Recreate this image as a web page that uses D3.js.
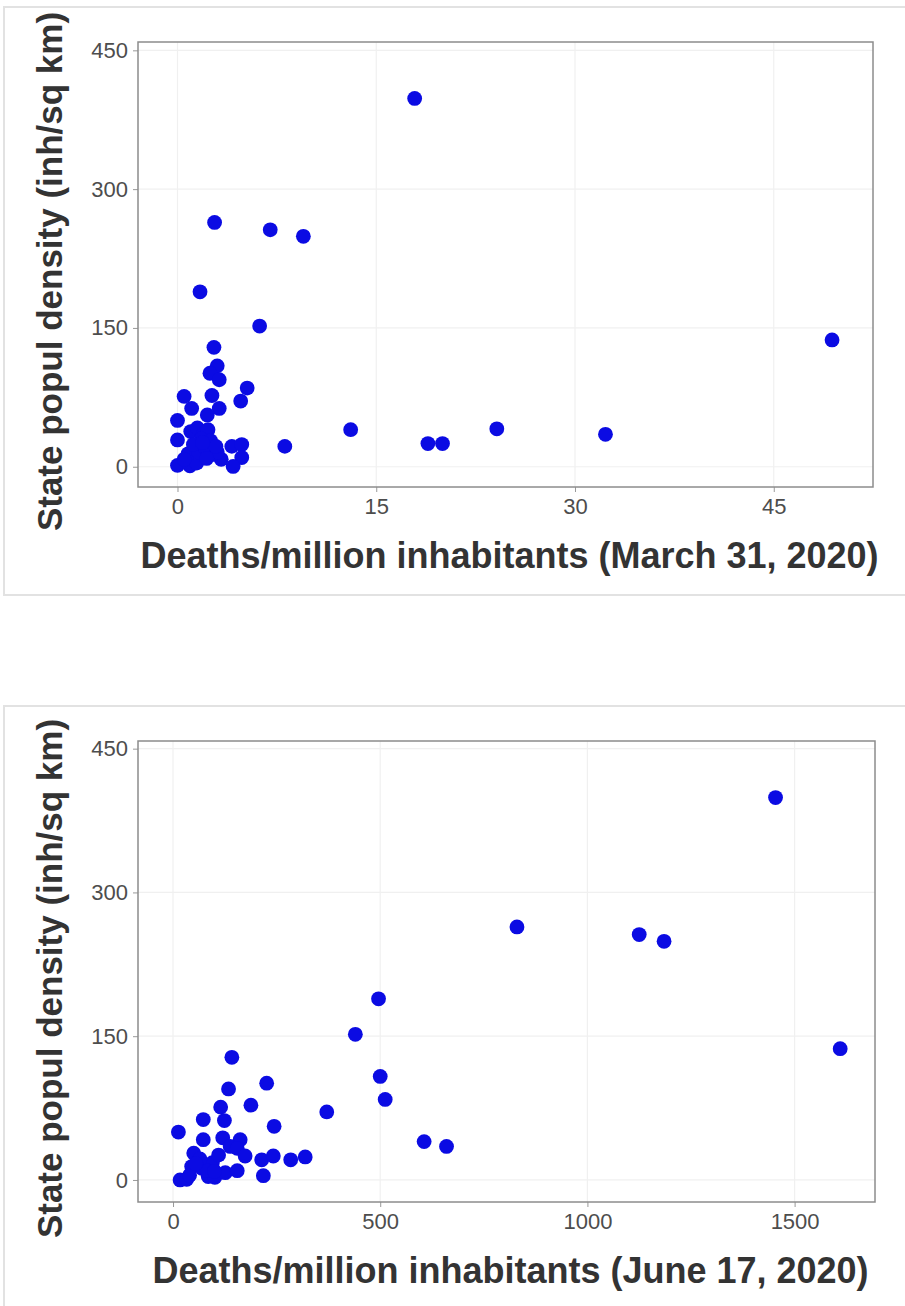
<!DOCTYPE html>
<html><head><meta charset="utf-8">
<script src="https://cdn.jsdelivr.net/npm/d3@7"></script>
<style>body{margin:0;background:#fff}</style>
</head><body>
<svg id="c" width="905" height="1306" xmlns="http://www.w3.org/2000/svg"></svg>
<script>
// ---- data ----
const marchDeaths  = [17.9, 2.8, 7.0, 9.5, 1.7, 6.2, 49.4, 2.75, 3.0, 2.45, 3.15, 5.26, 0.5, 2.6, 4.77, 1.07, 3.15, 2.25, 0.0, 13.07, 0.0, 8.1, 18.9, 20.0, 24.1, 32.3, 4.1, 4.85, 4.85, 3.3, 4.2, 0.0, 0.94, 1.45, 1.0, 1.5, 2.0, 2.3, 1.8, 2.5, 0.8, 1.6, 2.6, 3.0, 2.0, 1.2, 2.9, 0.5, 2.2, 1.9];
const marchDensity = [398, 264, 256, 249, 189, 152, 137, 129, 109, 101, 94, 85, 76, 77, 71, 63, 63, 56, 50, 40, 29, 22, 25, 25, 41, 35, 22, 24, 10, 8, 0.3, 1.4, 1, 4, 38, 42, 36, 40, 30, 28, 14, 16, 13, 16, 22, 24, 22, 8, 9, 26];
const juneDeaths   = [1454, 830, 1125, 1185, 496, 440, 1610, 142, 500, 226, 134, 512, 115, 188, 371, 73, 124, 244, 13, 606, 73, 120, 162, 138, 155, 174, 214, 242, 284, 319, 218, 17, 33, 85, 101, 126, 155, 660, 60, 90, 70, 45, 95, 50, 80, 65, 110, 100, 40, 55];
const juneDensity  = [399, 264, 256, 249, 189, 152, 137, 128, 108, 101, 95, 84, 76, 78, 71, 63, 62, 56, 50, 40, 42, 44, 42, 35, 33, 25, 21, 25, 21, 24, 4.5, 0, 0.7, 3.5, 2.8, 7.6, 9.7, 35, 20, 15, 12, 14, 18, 28, 10, 22, 26, 9, 5, 17];
const yTicks = [0, 150, 300, 450];
const marchTicks = [0, 15, 30, 45];
const juneTicks = [0, 500, 1000, 1500];
const yTitle = "State popul density (inh/sq km)";
const marchTitle = "Deaths/million inhabitants (March 31, 2020)";
const juneTitle = "Deaths/million inhabitants (June 17, 2020)";

const svg = d3.select("#c");

function panel(cfg) {
  const g = svg.append("g");
  g.append("rect").attr("x", cfg.frame[0]).attr("y", cfg.frame[1])
    .attr("width", cfg.frame[2]).attr("height", cfg.frame[3])
    .attr("fill", "#fff").attr("stroke", "#e2e2e2").attr("stroke-width", 2);

  const x = d3.scaleLinear().domain(cfg.xDomain).range([cfg.left, cfg.right]);
  const y = d3.scaleLinear().domain(cfg.yDomain).range([cfg.bottom, cfg.top]);

  g.append("g").selectAll("line").data(cfg.xTicks).join("line")
    .attr("x1", d => x(d)).attr("x2", d => x(d))
    .attr("y1", cfg.top).attr("y2", cfg.bottom)
    .attr("stroke", "#f0f0f0").attr("stroke-width", 1.2);
  g.append("g").selectAll("line").data(yTicks).join("line")
    .attr("y1", d => y(d)).attr("y2", d => y(d))
    .attr("x1", cfg.left).attr("x2", cfg.right)
    .attr("stroke", "#f0f0f0").attr("stroke-width", 1.2);

  const xa = g.append("g").attr("transform", `translate(0,${cfg.bottom})`)
    .call(d3.axisBottom(x).tickValues(cfg.xTicks).tickSize(5).tickPadding(6).tickFormat(d3.format("d")));
  const ya = g.append("g").attr("transform", `translate(${cfg.left},0)`)
    .call(d3.axisLeft(y).tickValues(yTicks).tickSize(5).tickPadding(5).tickFormat(d3.format("d")));
  [xa, ya].forEach(a => {
    a.select(".domain").remove();
    a.selectAll(".tick line").attr("stroke", "#999");
    a.selectAll(".tick text").attr("fill", "#4d4d4d")
      .attr("font-family", "Liberation Sans, Arial, sans-serif").attr("font-size", 22);
  });

  g.append("rect").attr("x", cfg.left).attr("y", cfg.top)
    .attr("width", cfg.right - cfg.left).attr("height", cfg.bottom - cfg.top)
    .attr("fill", "none").attr("stroke", "#8c8c8c").attr("stroke-width", 1.5);

  g.append("g").selectAll("circle").data(cfg.xs).join("circle")
    .attr("cx", d => x(d)).attr("cy", (d, i) => y(cfg.ys[i]))
    .attr("r", 7.4).attr("fill", "#0b0be3");

  g.append("text").attr("x", (cfg.left + cfg.right) / 2 + 4).attr("y", cfg.bottom + 81)
    .attr("text-anchor", "middle").attr("font-family", "Liberation Sans, Arial, sans-serif")
    .attr("font-weight", "bold").attr("font-size", 36).attr("fill", "#333")
    .text(cfg.xTitle);
  g.append("text")
    .attr("transform", `translate(62,${(cfg.top + cfg.bottom) / 2 + 7}) rotate(-90)`)
    .attr("text-anchor", "middle").attr("font-family", "Liberation Sans, Arial, sans-serif")
    .attr("font-weight", "bold").attr("font-size", 35).attr("fill", "#333")
    .text(yTitle);
}

panel({
  frame: [4, 7, 910, 588],
  left: 138, right: 873, top: 42, bottom: 487,
  xDomain: [-2.98, 52.49], yDomain: [-21.9, 459],
  xTicks: marchTicks, xs: marchDeaths, ys: marchDensity, xTitle: marchTitle
});
panel({
  frame: [4, 706, 910, 610],
  left: 138, right: 875, top: 741, bottom: 1202,
  xDomain: [-84.5, 1694], yDomain: [-23, 458],
  xTicks: juneTicks, xs: juneDeaths, ys: juneDensity, xTitle: juneTitle
});
</script>
</body></html>
